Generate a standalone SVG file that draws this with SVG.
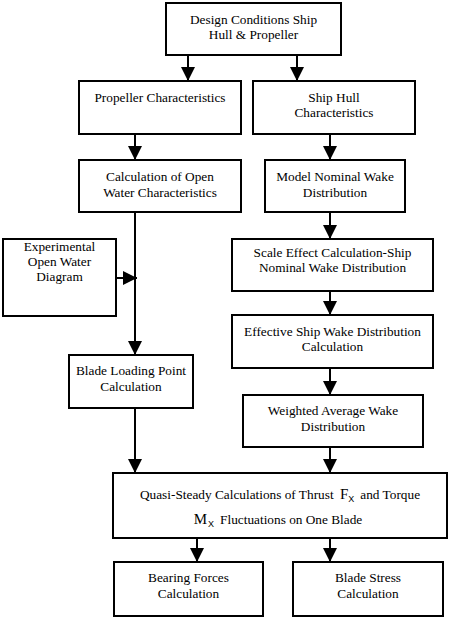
<svg xmlns="http://www.w3.org/2000/svg" width="450" height="620" viewBox="0 0 450 620">
<style>
rect{fill:#fff;stroke:#000;stroke-width:2}
text{font-family:"Liberation Serif","Times New Roman",serif;font-size:13.3px;text-anchor:middle;fill:#000}
.c{stroke:#000;stroke-width:2;fill:none;marker-end:url(#ah)}
</style>
<defs>
<marker id="ah" markerUnits="userSpaceOnUse" markerWidth="15" markerHeight="15" refX="14" refY="7" orient="auto">
<path d="M0,0 L14,7 L0,14 z" fill="#000"/>
</marker>
</defs>
<rect x="0" y="0" width="450" height="620" style="stroke:none"/>
<g id="connectors">
<line class="c" x1="188" y1="55" x2="188" y2="81"/>
<line class="c" x1="297" y1="55" x2="297" y2="81"/>
<line class="c" x1="135" y1="134" x2="135" y2="160"/>
<line class="c" x1="330" y1="134" x2="330" y2="160"/>
<line class="c" x1="330" y1="212" x2="330" y2="239"/>
<line class="c" x1="135" y1="212" x2="135" y2="355"/>
<line class="c" x1="116" y1="278" x2="137" y2="278"/>
<line class="c" x1="330" y1="291" x2="330" y2="315"/>
<line class="c" x1="330" y1="368" x2="330" y2="395"/>
<line class="c" x1="135" y1="408" x2="135" y2="473"/>
<line class="c" x1="330" y1="447" x2="330" y2="473"/>
<line class="c" x1="197" y1="538" x2="197" y2="562"/>
<line class="c" x1="330" y1="538" x2="330" y2="562"/>
</g>
<g id="design">
<rect x="166" y="3" width="175" height="52"/>
<text x="253.5" y="24">Design Conditions Ship</text>
<text x="253.5" y="39">Hull &amp; Propeller</text>
</g>
<g id="propeller">
<rect x="79" y="81" width="162" height="53"/>
<text x="160" y="102">Propeller Characteristics</text>
</g>
<g id="hull">
<rect x="253" y="81" width="162" height="53"/>
<text x="334" y="102">Ship Hull</text>
<text x="334" y="117">Characteristics</text>
</g>
<g id="openwater">
<rect x="79" y="160" width="162" height="52"/>
<text x="160" y="181">Calculation of Open</text>
<text x="160" y="197">Water Characteristics</text>
</g>
<g id="model">
<rect x="265" y="160" width="140" height="52"/>
<text x="335" y="181">Model Nominal Wake</text>
<text x="335" y="197">Distribution</text>
</g>
<g id="experimental">
<rect x="3" y="239" width="113" height="77"/>
<text x="59.5" y="251">Experimental</text>
<text x="59.5" y="266">Open Water</text>
<text x="59.5" y="281">Diagram</text>
</g>
<g id="scale">
<rect x="232" y="239" width="201" height="52"/>
<text x="332.5" y="257">Scale Effect Calculation-Ship</text>
<text x="332.5" y="272">Nominal Wake Distribution</text>
</g>
<g id="bladeloading">
<rect x="69" y="355" width="124" height="53"/>
<text x="131" y="375">Blade Loading Point</text>
<text x="131" y="391">Calculation</text>
</g>
<g id="effective">
<rect x="232" y="315" width="201" height="53"/>
<text x="332.5" y="336">Effective Ship Wake Distribution</text>
<text x="332.5" y="351">Calculation</text>
</g>
<g id="weighted">
<rect x="243" y="395" width="180" height="52"/>
<text x="333" y="415">Weighted Average Wake</text>
<text x="333" y="431">Distribution</text>
</g>
<g id="quasi">
<rect x="113" y="473" width="334" height="65"/>
<text x="280" y="499">Quasi-Steady Calculations of Thrust <tspan dx="3" font-size="15">F</tspan><tspan font-family="Liberation Sans, Arial, sans-serif" font-size="9" dy="3">X</tspan><tspan dy="-3" dx="6">and Torque</tspan></text>
<text x="278" y="524"><tspan font-size="15">M</tspan><tspan font-family="Liberation Sans, Arial, sans-serif" font-size="9" dy="3" dx="1">X</tspan><tspan dy="-3" dx="6">Fluctuations on One Blade</tspan></text>
</g>
<g id="bearing">
<rect x="114" y="562" width="149" height="54"/>
<text x="188.5" y="582">Bearing Forces</text>
<text x="188.5" y="598">Calculation</text>
</g>
<g id="bladestress">
<rect x="293" y="562" width="150" height="54"/>
<text x="368" y="582">Blade Stress</text>
<text x="368" y="598">Calculation</text>
</g>
</svg>
